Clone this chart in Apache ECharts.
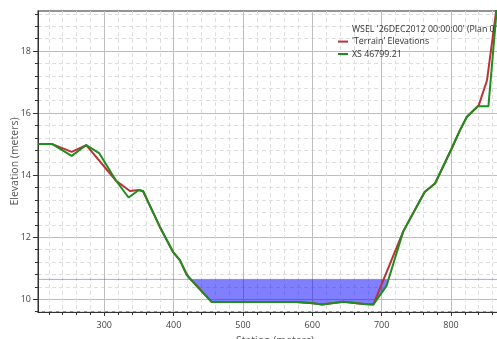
<!DOCTYPE html>
<html>
<head>
<meta charset="utf-8">
<script src="https://cdn.jsdelivr.net/npm/echarts@6/dist/echarts.min.js"></script>
<style>
  html, body { margin: 0; padding: 0; background: #fff; }
  #chart { width: 497px; height: 339px; }
</style>
</head>
<body>
<div id="chart"></div>
<script>
// Cross section profile: water surface, terrain and surveyed section
const wsel = 10.64;
const wselName = "WSEL '26DEC2012 00:00:00' (Plan 01)";

const xsStation = [205, 225, 253, 274, 293, 317, 335, 350, 356, 380, 399, 409, 419, 424, 455, 577, 601, 614, 645, 674, 688, 707, 731, 762, 777, 801, 813, 823, 839, 854, 867];
const xsElev    = [15.0, 15.0, 14.62, 14.97, 14.70, 13.82, 13.28, 13.52, 13.48, 12.34, 11.53, 11.26, 10.78, 10.65, 9.91, 9.91, 9.87, 9.83, 9.92, 9.85, 9.83, 10.43, 12.18, 13.46, 13.73, 14.86, 15.45, 15.88, 16.22, 16.22, 19.6];

const terrainStation = [205, 225, 253, 274, 317, 337, 350, 356, 380, 399, 409, 419, 424, 455, 577, 601, 614, 645, 674, 688, 731, 762, 777, 801, 813, 823, 840, 852, 867];
const terrainElev    = [15.0, 15.0, 14.75, 14.97, 13.82, 13.49, 13.52, 13.48, 12.34, 11.53, 11.26, 10.80, 10.66, 9.91, 9.91, 9.87, 9.83, 9.92, 9.85, 9.83, 12.18, 13.46, 13.73, 14.86, 15.45, 15.88, 16.25, 17.06, 19.6];

// Axis tick positions
const xMajor = [300, 400, 500, 600, 700, 800];
const xMinor = [220, 240, 260, 280, 320, 340, 360, 380, 420, 440, 460, 480, 520, 540, 560, 580,
                620, 640, 660, 680, 720, 740, 760, 780, 820, 840, 860, 880];
const yMajor = [10, 12, 14, 16, 18];
const yMinor = [9.6, 10.4, 10.8, 11.2, 11.6, 12.4, 12.8, 13.2, 13.6, 14.4, 14.8, 15.2, 15.6,
                16.4, 16.8, 17.2, 17.6, 18.4, 18.8, 19.2];

const X_MIN = 204.4, X_MAX = 888, Y_MIN = 9.59, Y_MAX = 19.29;

// Wetted polygon: section points below the water surface plus the two crossings
function wettedPolygon() {
  const pts = [];
  for (let i = 0; i < xsStation.length - 1; i++) {
    const x0 = xsStation[i], y0 = xsElev[i], x1 = xsStation[i + 1], y1 = xsElev[i + 1];
    if (y0 <= wsel) pts.push([x0, y0]);
    if ((y0 - wsel) * (y1 - wsel) < 0) {
      const t = (wsel - y0) / (y1 - y0);
      pts.push([x0 + t * (x1 - x0), wsel]);
    }
  }
  return pts;
}
const wetted = wettedPolygon();

const chart = echarts.init(document.getElementById('chart'), null, { renderer: 'canvas' });

const labelFont = { fontFamily: 'Open Sans', fontSize: 9, color: '#444' };
const lineIcon = 'rect';

chart.setOption({
  animation: false,
  backgroundColor: '#fff',
  grid: {
    left: 38, right: -15, top: 11, bottom: 27,
    outerBoundsMode: 'none', containLabel: false,
    show: true, borderColor: '#707070', borderWidth: 1.5, backgroundColor: 'transparent'
  },
  legend: {
    orient: 'vertical', left: 338, top: 23, padding: 0,
    itemWidth: 10, itemHeight: 2, itemGap: 0,
    textStyle: { fontFamily: 'Open Sans', fontSize: 8.8, lineHeight: 12.4, color: '#333', padding: [0, 0, 0, -1] },
    data: [
      { name: wselName, icon: lineIcon, itemStyle: { opacity: 0 } },
      { name: "'Terrain' Elevations", icon: lineIcon },
      { name: 'XS 46799.21', icon: lineIcon }
    ]
  },
  xAxis: [
    {
      type: 'value', min: X_MIN, max: X_MAX, position: 'bottom',
      name: 'Station (meters)', nameLocation: 'middle', nameGap: 24, nameMoveOverlap: false,
      nameTextStyle: { fontFamily: 'Open Sans', fontSize: 10.5, color: '#555', verticalAlign: 'top' },
      axisLine: { show: true, lineStyle: { color: '#333', width: 1 } },
      axisTick: { show: true, inside: false, length: 4, customValues: xMajor, lineStyle: { color: '#333' } },
      axisLabel: { customValues: xMajor, margin: 9, ...labelFont },
      splitLine: { show: true, lineStyle: { color: '#bdbdbd', width: 1 } }
    },
    {
      type: 'value', min: X_MIN, max: X_MAX, position: 'bottom',
      axisLine: { show: false },
      axisTick: { show: true, inside: false, length: 3, customValues: xMinor, lineStyle: { color: '#333' } },
      axisLabel: { show: false, customValues: [] },
      splitLine: { show: true, lineStyle: { color: '#dedede', width: 1, type: [4, 3] } }
    }
  ],
  yAxis: [
    {
      type: 'value', min: Y_MIN, max: Y_MAX, position: 'left',
      name: 'Elevation (meters)', nameLocation: 'middle', nameGap: 17, nameMoveOverlap: false,
      nameTextStyle: { fontFamily: 'Open Sans', fontSize: 10.5, color: '#555' },
      axisLine: { show: true, lineStyle: { color: '#333', width: 1 } },
      axisTick: { show: true, inside: false, length: 5, customValues: yMajor, lineStyle: { color: '#333' } },
      axisLabel: { customValues: yMajor, margin: 7, ...labelFont },
      splitLine: { show: true, lineStyle: { color: '#bdbdbd', width: 1 } }
    },
    {
      type: 'value', min: Y_MIN, max: Y_MAX, position: 'left',
      axisLine: { show: false },
      axisTick: { show: true, inside: false, length: 3, customValues: yMinor, lineStyle: { color: '#333' } },
      axisLabel: { show: false, customValues: [] },
      splitLine: { show: true, lineStyle: { color: '#dedede', width: 1, type: [4, 3] } }
    }
  ],
  series: [
    {
      name: 'wetted',
      type: 'custom',
      xAxisIndex: 0, yAxisIndex: 0,
      clip: true,
      z: 1,
      silent: true,
      data: [[wetted[0][0], wsel]],
      renderItem: function (params, api) {
        const points = wetted.map(p => api.coord(p));
        return {
          type: 'polygon',
          shape: { points: points },
          style: { fill: 'rgba(0,0,255,0.5)', stroke: null }
        };
      }
    },
    {
      name: wselName,
      type: 'line',
      xAxisIndex: 0, yAxisIndex: 0,
      symbol: 'none',
      z: 2,
      data: [[X_MIN, wsel], [X_MAX, wsel]],
      lineStyle: { color: 'rgba(60,60,255,0.45)', width: 1 },
      itemStyle: { color: 'rgba(60,60,255,0.45)' }
    },
    {
      name: "'Terrain' Elevations",
      type: 'line',
      xAxisIndex: 0, yAxisIndex: 0,
      symbol: 'none',
      clip: true,
      z: 3,
      data: terrainStation.map((s, i) => [s, terrainElev[i]]),
      lineStyle: { color: '#b83434', width: 2 },
      itemStyle: { color: '#b83434' }
    },
    {
      name: 'XS 46799.21',
      type: 'line',
      xAxisIndex: 0, yAxisIndex: 0,
      symbol: 'none',
      clip: true,
      z: 4,
      data: xsStation.map((s, i) => [s, xsElev[i]]),
      lineStyle: { color: '#1f8c1f', width: 2 },
      itemStyle: { color: '#1f8c1f' }
    }
  ]
});
</script>
</body>
</html>
